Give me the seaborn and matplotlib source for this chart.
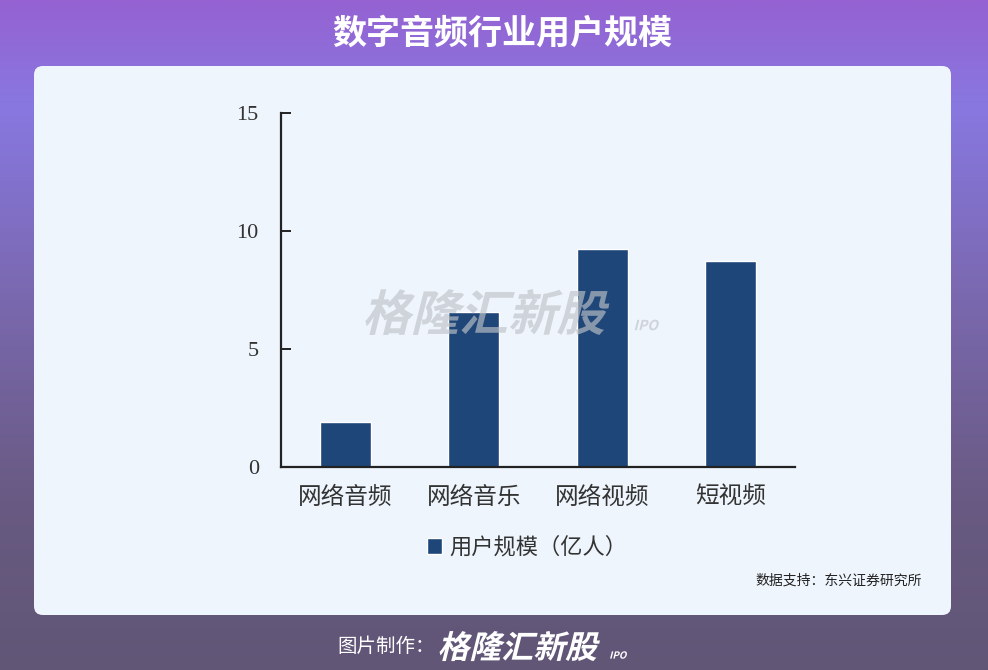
import numpy as np
import pandas as pd
import matplotlib
matplotlib.use('Agg')
import matplotlib.pyplot as plt
import seaborn as sns
from matplotlib.colors import LinearSegmentedColormap
from matplotlib.patches import FancyBboxPatch, PathPatch
from matplotlib.textpath import TextPath
from matplotlib.font_manager import FontProperties
from matplotlib.transforms import Affine2D, IdentityTransform

# ==================== DATA ====================
categories = ['网络音频', '网络音乐', '网络视频', '短视频']
users = [1.9, 6.57, 9.23, 8.73]          # 用户规模（亿人）
y_ticks = [0, 5, 10, 15]

TITLE = '数字音频行业用户规模'
LEGEND_LABEL = '用户规模（亿人）'
SOURCE = '数据支持：东兴证券研究所'
FOOTER = '图片制作：'
LOGO = '格隆汇新股'

BAR_COLOR = '#1E4679'
PANEL_COLOR = '#EEF5FC'

df = pd.DataFrame({'category': categories, 'value': users})

# ==================== FIGURE ====================
sns.set_theme(style='white')
plt.rcParams['font.family'] = ['Noto Sans CJK SC', 'DejaVu Sans']

W, H = 988, 670
DPI = 100
fig = plt.figure(figsize=(W / DPI, H / DPI), dpi=DPI)

# gradient background + panel (drawn in one background axes)
bg = fig.add_axes([0, 0, 1, 1])
bg.set_zorder(-5)
bg_cmap = LinearSegmentedColormap.from_list('bg', [
    (0.00, '#9562D2'), (0.16, '#8878E0'), (0.45, '#7A68AE'),
    (0.75, '#685A82'), (1.00, '#615676')])
grad = np.linspace(0, 1, 256).reshape(-1, 1)
bg.imshow(grad, cmap=bg_cmap, aspect='auto', extent=[0, 1, 0, 1], origin='upper')
bg.set_xlim(0, 1)
bg.set_ylim(0, 1)
bg.axis('off')

panel = FancyBboxPatch((34 / W, 1 - 615 / H), (951 - 34) / W, (615 - 66) / H,
                       boxstyle='round,pad=0,rounding_size=0.009',
                       facecolor=PANEL_COLOR, edgecolor='none',
                       mutation_aspect=W / H, zorder=2)
bg.add_patch(panel)

bg.text(502 / W, 1 - 33 / H, TITLE, ha='center', va='center', color='white',
        fontsize=24.5, fontweight='bold')

# ==================== BAR CHART ====================
ax = fig.add_axes([281 / W, 1 - 467 / H, (795 - 281) / W, (467 - 113) / H])
ax.set_facecolor('none')
sns.barplot(data=df, x='category', y='value', color=BAR_COLOR, width=0.4,
            saturation=1, ax=ax, label=LEGEND_LABEL)
ax.set_ylim(0, 15)
ax.set_xlim(-0.5, 3.5)
ax.set_yticks(y_ticks)
ax.set_xlabel('')
ax.set_ylabel('')
sns.despine(ax=ax)
for s in ['left', 'bottom']:
    ax.spines[s].set_color('#222222')
    ax.spines[s].set_linewidth(1.6)
ax.tick_params(axis='y', direction='in', length=7, width=1.4, color='#222222',
               left=True, pad=16, labelsize=16)
ax.tick_params(axis='x', length=0, pad=14, labelsize=17)
for lab in ax.get_yticklabels():
    lab.set_fontfamily('Liberation Serif')
    lab.set_color('#333333')
for lab in ax.get_xticklabels():
    lab.set_color('#333333')

leg = ax.legend(loc='center', bbox_to_anchor=(527 / W, 1 - 547 / H),
                bbox_transform=fig.transFigure, frameon=False, fontsize=16,
                handlelength=0.7, handleheight=0.7, handletextpad=0.3)
for t in leg.get_texts():
    t.set_color('#333333')


# slanted logo text (pixel coords, y measured from top)
def slanted_text(txt, x_px, y_px, size, color, alpha=1.0, ha='left', z=10):
    fp = FontProperties(family='Noto Sans CJK SC', weight='bold')
    path = TextPath((0, 0), txt, size=size, prop=fp)
    ext = path.get_extents()
    scale = DPI / 72
    x0 = -ext.x0 if ha == 'left' else -(ext.x0 + ext.width / 2)
    y0 = -(ext.y0 + ext.height / 2)
    tr = (Affine2D().translate(x0, y0).skew_deg(14, 0).scale(scale)
          .translate(x_px, H - y_px))
    fig.add_artist(PathPatch(path, transform=tr + IdentityTransform(),
                             facecolor=color, edgecolor='none', alpha=alpha,
                             zorder=z))


# watermark
slanted_text(LOGO, 488, 312, 35, '#BFC3C8', alpha=0.65, ha='center')
slanted_text('IPO', 636, 325, 10, '#BFC3C8', alpha=0.65)

fig.text(922 / W, 1 - 581 / H, SOURCE, ha='right', va='center', fontsize=10,
         color='#222222')

# footer
fig.text(435 / W, 1 - 646 / H, FOOTER, ha='right', va='center', fontsize=14,
         color='white')
slanted_text(LOGO, 441, 646, 23, 'white')
slanted_text('IPO', 611, 655, 7, 'white')

fig.savefig('out.png', dpi=DPI)
